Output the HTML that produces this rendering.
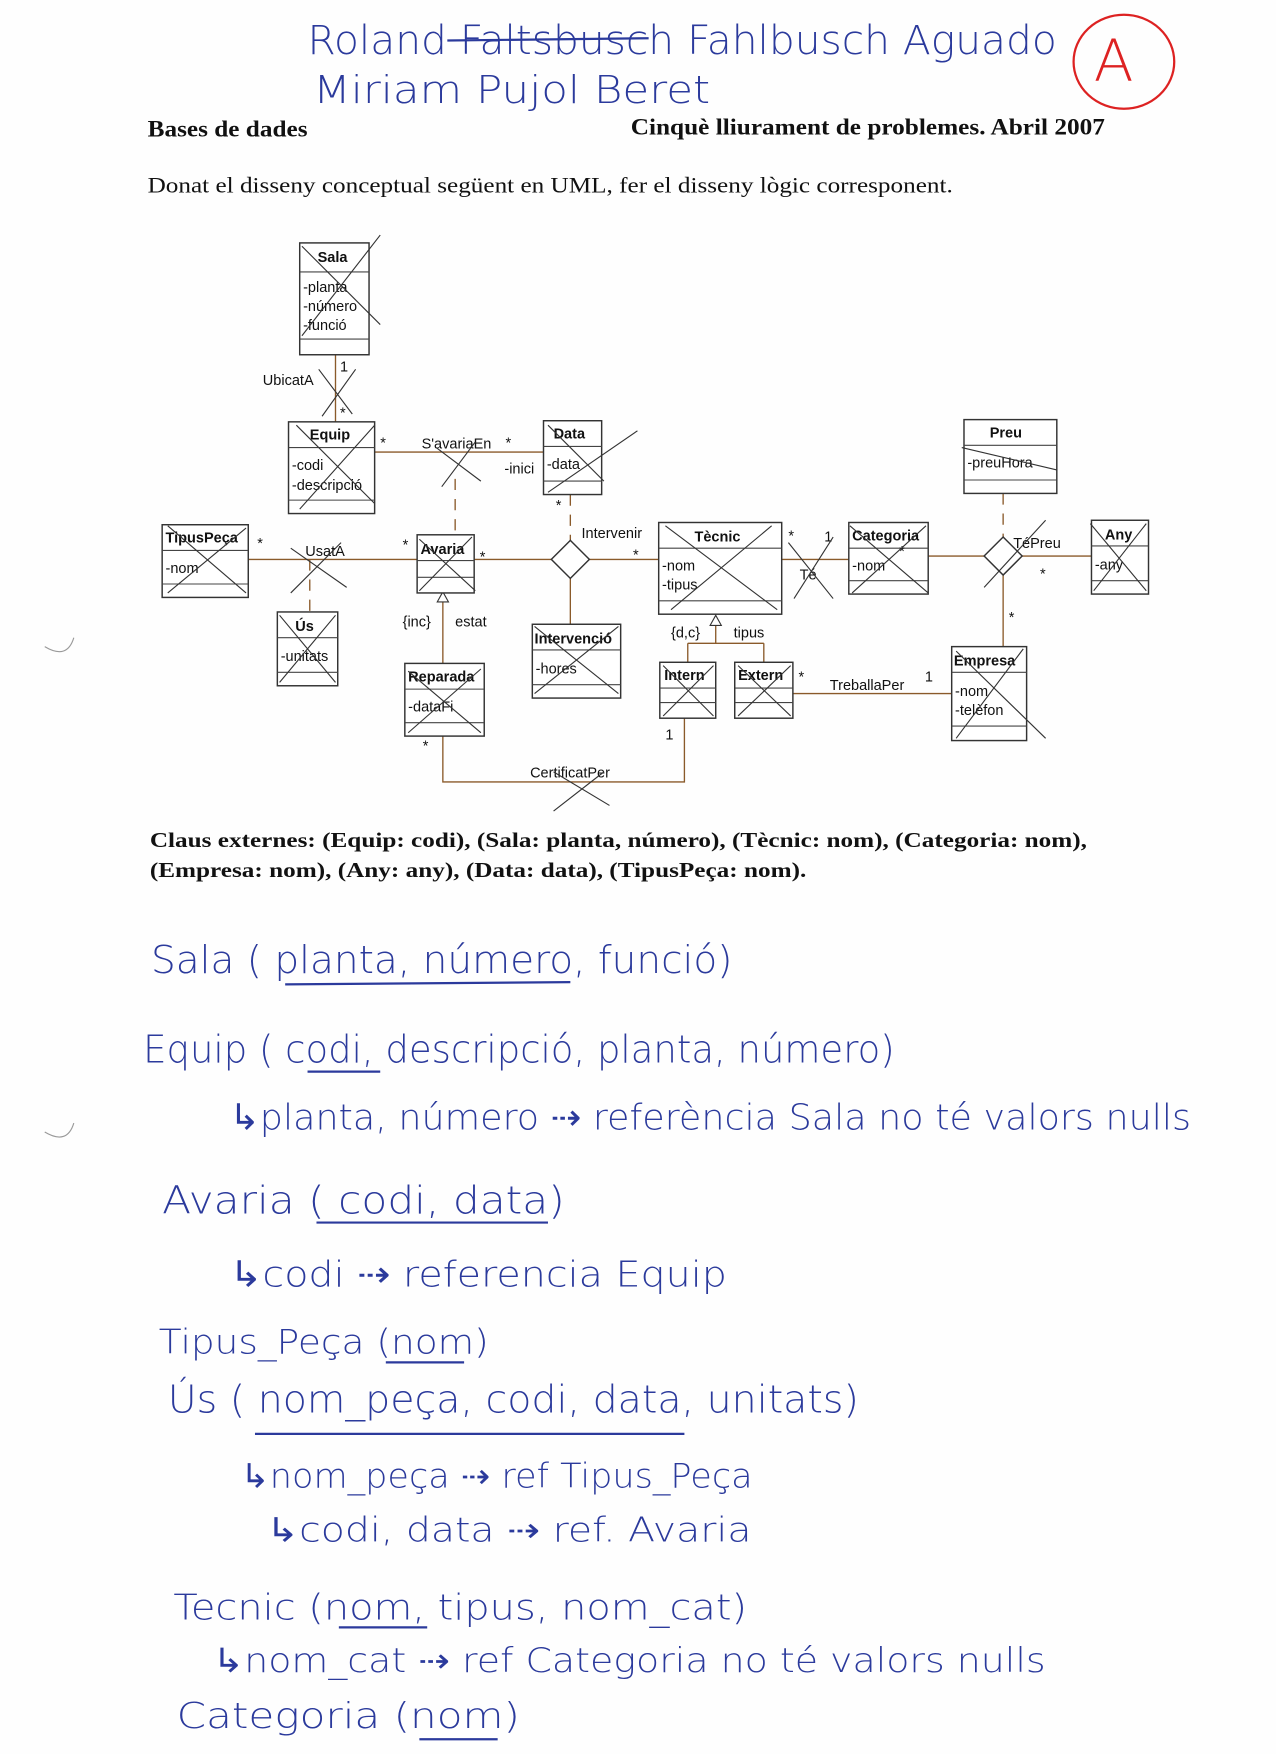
<!DOCTYPE html>
<html><head><meta charset="utf-8"><style>
html,body{margin:0;padding:0;background:#fff;}
svg{display:block}
.hw{font-family:"DejaVu Sans","Liberation Sans",sans-serif;fill:#2b3a9c;font-weight:300}
.sf{font-family:"Liberation Serif",serif;fill:#111}
.b{font-family:"Liberation Sans",sans-serif;font-size:13px;fill:#111}
.bb{font-family:"Liberation Sans",sans-serif;font-size:13px;font-weight:bold;fill:#111}
.box{fill:#fff;stroke:#333;stroke-width:1.3}
.ln{stroke:#8a5a2a;stroke-width:1.2;fill:none}
.x{stroke:#444;stroke-width:1;fill:none}
</style></head><body>
<svg width="1276" height="1754" viewBox="0 0 1141 1568" xmlns="http://www.w3.org/2000/svg">
<rect width="1141" height="1568" fill="#fefefe"/>
<text class="hw" x="275" y="48" font-size="36" textLength="670" lengthAdjust="spacingAndGlyphs">Roland Faltsbusch Fahlbusch Aguado</text>
<line x1="400" y1="36" x2="580" y2="34" stroke="#2b3a9c" stroke-width="2"/>
<text class="hw" x="280" y="92" font-size="34" textLength="355" lengthAdjust="spacingAndGlyphs">Miriam Pujol Beret</text>
<ellipse cx="1005" cy="55" rx="45" ry="42" fill="none" stroke="#d22" stroke-width="2"/>
<text x="978" y="72" font-size="52" fill="#d22" font-family="DejaVu Sans,sans-serif" font-weight="300">A</text>
<text class="sf" x="132" y="122" font-size="21" font-weight="bold" textLength="143" lengthAdjust="spacingAndGlyphs">Bases de dades</text>
<text class="sf" x="564" y="120" font-size="21" font-weight="bold" textLength="424" lengthAdjust="spacingAndGlyphs">Cinquè lliurament de problemes. Abril 2007</text>
<text class="sf" x="132" y="172" font-size="20" textLength="720" lengthAdjust="spacingAndGlyphs">Donat el disseny conceptual següent en UML, fer el disseny lògic corresponent.</text>

<g class="ln">
<line x1="300" y1="317" x2="300" y2="377"/>
<line x1="335" y1="404" x2="486" y2="404"/>
<line x1="407" y1="428" x2="407" y2="478" stroke-dasharray="10,8"/>
<line x1="510" y1="442" x2="510" y2="483" stroke-dasharray="10,8"/>
<line x1="222" y1="500" x2="373" y2="500"/>
<line x1="277" y1="500" x2="277" y2="547" stroke-dasharray="10,8"/>
<line x1="424" y1="500" x2="493" y2="500"/>
<line x1="527" y1="500" x2="589" y2="500"/>
<line x1="510" y1="517" x2="510" y2="558"/>
<line x1="699" y1="500" x2="759" y2="500"/>
<line x1="830" y1="497" x2="880" y2="497"/>
<line x1="914" y1="497" x2="976" y2="497"/>
<line x1="897" y1="441" x2="897" y2="480" stroke-dasharray="10,8"/>
<line x1="897" y1="514" x2="897" y2="578"/>
<line x1="396" y1="537" x2="396" y2="593"/>
<line x1="640" y1="558" x2="640" y2="575"/>
<line x1="615" y1="575" x2="683" y2="575"/>
<line x1="615" y1="575" x2="615" y2="592"/>
<line x1="683" y1="575" x2="683" y2="592"/>
<line x1="709" y1="620" x2="851" y2="620"/>
<polyline points="396,658 396,699 612,699 612,642"/>
</g>
<polygon points="396,529 391,538 401,538" fill="#fff" stroke="#333"/>
<polygon points="640,550 635,559 645,559" fill="#fff" stroke="#333"/>
<polygon points="510,483 527,500 510,517 493,500" fill="#fff" stroke="#333" stroke-width="1.3"/>
<polygon points="897,480 914,497 897,514 880,497" fill="#fff" stroke="#333" stroke-width="1.3"/>

<g>
<rect class="box" x="268" y="217" width="62" height="100"/><line class="x" x1="268" y1="243" x2="330" y2="243"/><line class="x" x1="268" y1="303" x2="330" y2="303"/>
<text class="bb" x="284" y="234">Sala</text><text class="b" x="271" y="261">-planta</text><text class="b" x="271" y="278">-número</text><text class="b" x="271" y="295">-funció</text>
<rect class="box" x="258" y="377" width="77" height="82"/><line class="x" x1="258" y1="400" x2="335" y2="400"/><line class="x" x1="258" y1="447" x2="335" y2="447"/>
<text class="bb" x="277" y="393">Equip</text><text class="b" x="261" y="420">-codi</text><text class="b" x="261" y="438">-descripció</text>
<rect class="box" x="486" y="376" width="52" height="66"/><line class="x" x1="486" y1="399" x2="538" y2="399"/><line class="x" x1="486" y1="430" x2="538" y2="430"/>
<text class="bb" x="495" y="392">Data</text><text class="b" x="489" y="419">-data</text>
<rect class="box" x="862" y="375" width="83" height="66"/><line class="x" x1="862" y1="398" x2="945" y2="398"/><line class="x" x1="862" y1="429" x2="945" y2="429"/>
<text class="bb" x="885" y="391">Preu</text><text class="b" x="865" y="418">-preuHora</text>
<rect class="box" x="145" y="469" width="77" height="65"/><line class="x" x1="145" y1="492" x2="222" y2="492"/><line class="x" x1="145" y1="522" x2="222" y2="522"/>
<text class="bb" x="148" y="485">TipusPeça</text><text class="b" x="148" y="512">-nom</text>
<rect class="box" x="373" y="478" width="51" height="52"/><line class="x" x1="373" y1="501" x2="424" y2="501"/><line class="x" x1="373" y1="516" x2="424" y2="516"/>
<text class="bb" x="376" y="495">Avaria</text>
<rect class="box" x="589" y="467" width="110" height="82"/><line class="x" x1="589" y1="490" x2="699" y2="490"/><line class="x" x1="589" y1="537" x2="699" y2="537"/>
<text class="bb" x="621" y="484">Tècnic</text><text class="b" x="592" y="510">-nom</text><text class="b" x="592" y="527">-tipus</text>
<rect class="box" x="759" y="467" width="71" height="64"/><line class="x" x1="759" y1="490" x2="830" y2="490"/><line class="x" x1="759" y1="519" x2="830" y2="519"/>
<text class="bb" x="762" y="483">Categoria</text><text class="b" x="762" y="510">-nom</text>
<rect class="box" x="976" y="465" width="51" height="66"/><line class="x" x1="976" y1="488" x2="1027" y2="488"/><line class="x" x1="976" y1="519" x2="1027" y2="519"/>
<text class="bb" x="988" y="482">Any</text><text class="b" x="979" y="509">-any</text>
<rect class="box" x="248" y="547" width="54" height="66"/><line class="x" x1="248" y1="570" x2="302" y2="570"/><line class="x" x1="248" y1="601" x2="302" y2="601"/>
<text class="bb" x="264" y="564">Ús</text><text class="b" x="251" y="591">-unitats</text>
<rect class="box" x="476" y="558" width="79" height="66"/><line class="x" x1="476" y1="581" x2="555" y2="581"/><line class="x" x1="476" y1="612" x2="555" y2="612"/>
<text class="bb" x="478" y="575">Intervenció</text><text class="b" x="479" y="602">-hores</text>
<rect class="box" x="362" y="593" width="71" height="65"/><line class="x" x1="362" y1="616" x2="433" y2="616"/><line class="x" x1="362" y1="646" x2="433" y2="646"/>
<text class="bb" x="365" y="609">Reparada</text><text class="b" x="365" y="636">-dataFi</text>
<rect class="box" x="590" y="592" width="50" height="50"/><line class="x" x1="590" y1="615" x2="640" y2="615"/><line class="x" x1="590" y1="628" x2="640" y2="628"/>
<text class="bb" x="594" y="608">Intern</text>
<rect class="box" x="657" y="592" width="52" height="50"/><line class="x" x1="657" y1="615" x2="709" y2="615"/><line class="x" x1="657" y1="628" x2="709" y2="628"/>
<text class="bb" x="660" y="608">Extern</text>
<rect class="box" x="851" y="578" width="67" height="84"/><line class="x" x1="851" y1="601" x2="918" y2="601"/><line class="x" x1="851" y1="649" x2="918" y2="649"/>
<text class="bb" x="853" y="595">Empresa</text><text class="b" x="854" y="622">-nom</text><text class="b" x="854" y="639">-telèfon</text>
</g>
<g class="b">
<text x="235" y="344">UbicatA</text><text x="304" y="332">1</text><text x="304" y="373">*</text>
<text x="340" y="400">*</text><text x="377" y="401">S'avariaEn</text><text x="452" y="400">*</text>
<text x="451" y="423">-inici</text><text x="497" y="456">*</text>
<text x="520" y="481">Intervenir</text><text x="566" y="500">*</text><text x="429" y="502">*</text>
<text x="230" y="490">*</text><text x="273" y="497">UsatA</text><text x="360" y="491">*</text>
<text x="360" y="560">{inc}</text><text x="407" y="560">estat</text>
<text x="705" y="483">*</text><text x="737" y="484">1</text><text x="715" y="518">Té</text>
<text x="906" y="490">TéPreu</text><text x="930" y="517">*</text><text x="902" y="556">*</text><text x="804" y="497">*</text>
<text x="600" y="570">{d,c}</text><text x="656" y="570">tipus</text>
<text x="714" y="609">*</text><text x="742" y="617">TreballaPer</text><text x="827" y="609">1</text>
<text x="378" y="671">*</text><text x="595" y="661">1</text><text x="474" y="695">CertificatPer</text>
</g>
<g stroke="#333" stroke-width="1" fill="none">
<path d="M270 220 L340 290 M340 210 L270 300"/><path d="M285 330 L315 370 M318 330 L288 372"/>
<path d="M265 380 L335 450 M335 380 L268 455"/><path d="M390 400 L430 430 M425 395 L395 435"/>
<path d="M490 380 L540 430 M570 385 L490 440"/><path d="M150 470 L220 530 M220 472 L150 530"/>
<path d="M260 490 L310 525 M305 485 L260 530"/><path d="M375 482 L425 528 M422 480 L375 528"/>
<path d="M595 470 L695 545 M690 470 L600 545"/><path d="M705 485 L745 535 M745 480 L710 535"/>
<path d="M760 470 L830 530 M828 470 L762 530"/><path d="M935 465 L880 525"/><path d="M975 468 L1025 528 M1025 468 L978 528"/>
<path d="M250 550 L300 610 M300 550 L250 610"/><path d="M478 560 L553 620 M553 560 L478 620"/>
<path d="M365 600 L430 655 M430 598 L365 655"/><path d="M593 595 L638 640 M638 595 L593 640"/>
<path d="M660 595 L707 640 M707 595 L660 640"/><path d="M855 582 L935 660 M915 580 L855 660"/>
<path d="M495 690 L545 720 M540 690 L495 725"/><path d="M860 400 L945 420"/>
</g>

<text class="sf" x="134" y="757" font-size="19" font-weight="bold" textLength="838" lengthAdjust="spacingAndGlyphs">Claus externes: (Equip: codi), (Sala: planta, número), (Tècnic: nom), (Categoria: nom),</text>
<text class="sf" x="134" y="784" font-size="19" font-weight="bold" textLength="587" lengthAdjust="spacingAndGlyphs">(Empresa: nom), (Any: any), (Data: data), (TipusPeça: nom).</text>

<g class="hw">
<text x="135" y="870" font-size="34" textLength="520" lengthAdjust="spacingAndGlyphs">Sala ( planta, número, funció)</text>
<line x1="255" y1="880" x2="510" y2="878" stroke="#2b3a9c" stroke-width="2"/>
<text x="128" y="950" font-size="34" textLength="672" lengthAdjust="spacingAndGlyphs">Equip ( codi, descripció, planta, número)</text>
<line x1="275" y1="958" x2="340" y2="958" stroke="#2b3a9c" stroke-width="2"/>
<text x="205" y="1010" font-size="32" textLength="860" lengthAdjust="spacingAndGlyphs">↳planta, número ⇢ referència Sala no té valors nulls</text>
<text x="145" y="1085" font-size="34" textLength="360" lengthAdjust="spacingAndGlyphs">Avaria ( codi, data)</text>
<line x1="283" y1="1093" x2="490" y2="1093" stroke="#2b3a9c" stroke-width="2"/>
<text x="205" y="1150" font-size="32" textLength="445" lengthAdjust="spacingAndGlyphs">↳codi ⇢ referencia Equip</text>
<text x="142" y="1210" font-size="30" textLength="295" lengthAdjust="spacingAndGlyphs">Tipus_Peça (nom)</text>
<line x1="345" y1="1218" x2="415" y2="1218" stroke="#2b3a9c" stroke-width="2"/>
<text x="150" y="1263" font-size="34" textLength="618" lengthAdjust="spacingAndGlyphs">Ús ( nom_peça, codi, data, unitats)</text>
<line x1="228" y1="1282" x2="612" y2="1282" stroke="#2b3a9c" stroke-width="2"/>
<text x="215" y="1330" font-size="30" textLength="458" lengthAdjust="spacingAndGlyphs">↳nom_peça ⇢ ref Tipus_Peça</text>
<text x="238" y="1378" font-size="30" textLength="434" lengthAdjust="spacingAndGlyphs">↳codi, data ⇢ ref. Avaria</text>
<text x="155" y="1448" font-size="32" textLength="513" lengthAdjust="spacingAndGlyphs">Tecnic (nom, tipus, nom_cat)</text>
<line x1="303" y1="1455" x2="382" y2="1455" stroke="#2b3a9c" stroke-width="2"/>
<text x="190" y="1495" font-size="30" textLength="745" lengthAdjust="spacingAndGlyphs">↳nom_cat ⇢ ref Categoria no té valors nulls</text>
<text x="158" y="1545" font-size="32" textLength="307" lengthAdjust="spacingAndGlyphs">Categoria (nom)</text>
<line x1="375" y1="1555" x2="445" y2="1555" stroke="#2b3a9c" stroke-width="2"/>
</g>
<path d="M40 578 Q60 590 66 570" stroke="#999" fill="none"/>
<path d="M40 1012 Q60 1024 66 1004" stroke="#999" fill="none"/>
</svg>
</body></html>
